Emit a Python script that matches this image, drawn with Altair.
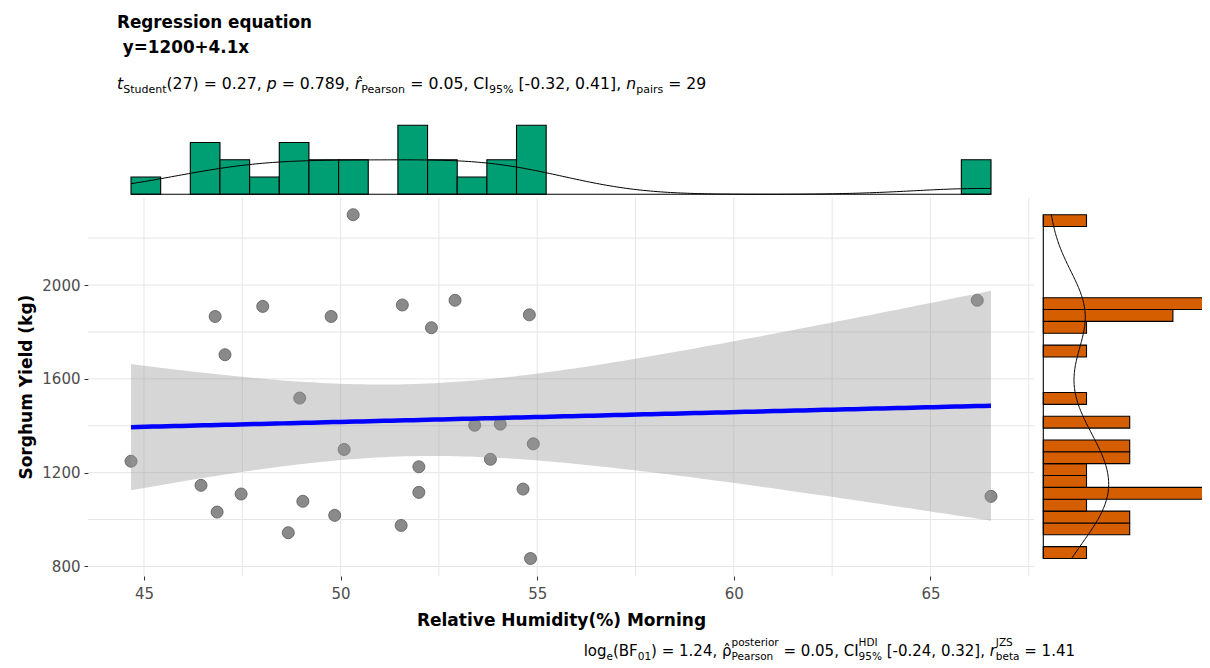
import altair as alt
import numpy as np
import pandas as pd

# ---------------- data ----------------
humidity = [50.32, 46.81, 48.02, 49.76, 51.57, 52.91, 52.31, 54.80, 47.06, 48.96,
            53.41, 54.06, 54.90, 50.09, 44.67, 53.81, 51.99, 46.45, 51.99, 47.47,
            54.64, 49.04, 46.86, 49.85, 51.54, 48.67, 54.83, 66.19, 66.54]
yield_kg = [2300, 1866, 1909, 1866, 1915, 1935, 1818, 1873, 1703, 1518,
            1402, 1407, 1323, 1299, 1249, 1257, 1225, 1146, 1116, 1109,
            1130, 1078, 1032, 1018, 975, 944, 834, 1935, 1099]

x_major = [45, 50, 55, 60, 65]
x_minor = [47.5, 52.5, 57.5, 62.5, 67.5]
y_major = [800, 1200, 1600, 2000]
y_minor = [1000, 1400, 1800, 2200]

title_lines = ["Regression equation", "y=1200+4.1x"]
x_title = "Relative Humidity(%) Morning"
y_title = "Sorghum Yield (kg)"

N_BINS = 29
T_CRIT = 2.052  # Student t quantile 0.975, df = 27

FONT = "DejaVu Sans"

# ---------------- geometry (pixels) ----------------
GX0, GY0 = 88, 120          # page position of the group origin
W, H = 1114, 456
SVG_W, SVG_H = 1194, 652
PAD = {"left": GX0 - 8, "top": GY0 - 8, "right": SVG_W - (GX0 - 8) - W,
       "bottom": SVG_H - (GY0 - 8) - H}
X_RANGE = [0, 946]
Y_RANGE = [455.7, 77.5]
TOP_BASE, TOP_UNIT = 74.3, 17.25
RIGHT_BASE, RIGHT_UNIT = 955.3, 43.2

# ---------------- derived statistics ----------------
x = np.array(humidity, dtype=float)
y = np.array(yield_kg, dtype=float)
n = len(x)
xmin, xmax = x.min(), x.max()
ymin, ymax = y.min(), y.max()
x_dom = [xmin - 0.05 * (xmax - xmin), xmax + 0.05 * (xmax - xmin)]
y_dom = [ymin - 0.05 * (ymax - ymin), ymax + 0.05 * (ymax - ymin)]

b, a = np.polyfit(x, y, 1)
gx = np.linspace(xmin, xmax, 120)
fit = a + b * gx
resid = y - (a + b * x)
s_res = np.sqrt(np.sum(resid ** 2) / (n - 2))
sxx = np.sum((x - x.mean()) ** 2)
se = s_res * np.sqrt(1.0 / n + (gx - x.mean()) ** 2 / sxx)
reg_df = pd.DataFrame({"gx": gx, "fit": fit, "lo": fit - T_CRIT * se, "hi": fit + T_CRIT * se})

pts_df = pd.DataFrame({"hum": humidity, "yld": yield_kg})


def hist(vals):
    edges = np.linspace(vals.min(), vals.max(), N_BINS + 1)
    counts = np.histogram(vals, edges)[0]
    df = pd.DataFrame({"b0": edges[:-1], "b1": edges[1:], "c": counts, "z": 0})
    return df, edges[1] - edges[0]


def kde(vals, binw):
    sd = np.std(vals, ddof=1)
    iqr = np.percentile(vals, 75) - np.percentile(vals, 25)
    bw = 0.9 * min(sd, iqr / 1.34) * len(vals) ** (-0.2)
    g = np.linspace(vals.min(), vals.max(), 256)
    d = np.exp(-0.5 * ((g[:, None] - vals[None, :]) / bw) ** 2).sum(axis=1)
    d = d / (len(vals) * bw * np.sqrt(2 * np.pi))
    return pd.DataFrame({"v": g, "d": d * len(vals) * binw})


xh_df, xbw = hist(x)
yh_df, ybw = hist(y)
xd_df = kde(x, xbw)
yd_df = kde(y, ybw)
cmax_x = int(xh_df["c"].max())
cmax_y = int(yh_df["c"].max())

# ---------------- scales & axes ----------------
xs = alt.Scale(domain=x_dom, range=X_RANGE, nice=False, zero=False)
ys = alt.Scale(domain=y_dom, range=Y_RANGE, nice=False, zero=False)
top_s = alt.Scale(domain=[0, cmax_x], range=[TOP_BASE, TOP_BASE - cmax_x * TOP_UNIT],
                  nice=False, zero=False)
right_s = alt.Scale(domain=[0, cmax_y], range=[RIGHT_BASE, RIGHT_BASE + cmax_y * RIGHT_UNIT],
                    nice=False, zero=False)

common_axis = dict(grid=False, domain=False, ticks=True, tickSize=4, tickColor="#333333",
                   tickWidth=1, labelFont=FONT, labelFontSize=15, labelColor="#4D4D4D",
                   titleFont=FONT, titleFontSize=17, titleFontWeight="bold",
                   titleColor="black", format="d")
x_axis = alt.Axis(values=x_major, title=x_title, labelPadding=6, titleX=473, titleY=49,
                  titleAlign="center", titleBaseline="alphabetic", **common_axis)
y_axis = alt.Axis(values=y_major, title=y_title, labelPadding=4, titleAngle=270,
                  titleX=-57, titleY=(Y_RANGE[0] + Y_RANGE[1]) / 2, titleAlign="center",
                  titleBaseline="alphabetic", **common_axis)

# ---------------- main panel ----------------
grid_v = alt.Chart(pd.DataFrame({"v": x_major + x_minor})).mark_rule(
    color="#E6E6E6", strokeWidth=1).encode(
    x=alt.X("v:Q", scale=xs, axis=x_axis),
    y=alt.value(Y_RANGE[1]), y2=alt.value(Y_RANGE[0]))
grid_h = alt.Chart(pd.DataFrame({"v": y_major + y_minor})).mark_rule(
    color="#E6E6E6", strokeWidth=1).encode(
    y=alt.Y("v:Q", scale=ys, axis=y_axis),
    x=alt.value(X_RANGE[0]), x2=alt.value(X_RANGE[1]))
points = alt.Chart(pts_df).mark_circle(
    size=145, color="#8A8A8A", stroke="#5A5A5A", strokeWidth=0.8, opacity=1).encode(
    x=alt.X("hum:Q", scale=xs, axis=x_axis),
    y=alt.Y("yld:Q", scale=ys, axis=y_axis))
band = alt.Chart(reg_df).mark_area(color="#999999", opacity=0.4).encode(
    x=alt.X("gx:Q", scale=xs, axis=x_axis),
    y=alt.Y("lo:Q", scale=ys, axis=y_axis), y2="hi:Q")
line = alt.Chart(reg_df).mark_line(color="#0000FF", strokeWidth=4.5).encode(
    x=alt.X("gx:Q", scale=xs, axis=x_axis),
    y=alt.Y("fit:Q", scale=ys, axis=y_axis))
main = alt.layer(grid_v, grid_h, points, band, line)

# ---------------- top marginal histogram ----------------
top_bars = alt.Chart(xh_df[xh_df["c"] > 0]).mark_rect(
    color="#009E73", stroke="black", strokeWidth=1.1).encode(
    x=alt.X("b0:Q", scale=xs, axis=None), x2="b1:Q",
    y=alt.Y("c:Q", scale=top_s, axis=None), y2="z:Q")
top_base = alt.Chart(pd.DataFrame({"a": [xmin], "b": [xmax], "z": [0]})).mark_rule(
    color="black", strokeWidth=1.1).encode(
    x=alt.X("a:Q", scale=xs, axis=None), x2="b:Q",
    y=alt.Y("z:Q", scale=top_s, axis=None))
top_dens = alt.Chart(xd_df).mark_line(color="black", strokeWidth=1).encode(
    x=alt.X("v:Q", scale=xs, axis=None),
    y=alt.Y("d:Q", scale=top_s, axis=None))
top = alt.layer(top_bars, top_base, top_dens)

# ---------------- right marginal histogram ----------------
right_bars = alt.Chart(yh_df[yh_df["c"] > 0]).mark_rect(
    color="#D55E00", stroke="black", strokeWidth=1.1, clip=True).encode(
    y=alt.Y("b0:Q", scale=ys, axis=None), y2="b1:Q",
    x=alt.X("c:Q", scale=right_s, axis=None), x2="z:Q")
right_base = alt.Chart(pd.DataFrame({"a": [ymin], "b": [ymax], "z": [0]})).mark_rule(
    color="black", strokeWidth=1.1).encode(
    y=alt.Y("a:Q", scale=ys, axis=None), y2="b:Q",
    x=alt.X("z:Q", scale=right_s, axis=None))
right_dens = alt.Chart(yd_df).mark_line(color="black", strokeWidth=1).encode(
    y=alt.Y("v:Q", scale=ys, axis=None),
    x=alt.X("d:Q", scale=right_s, axis=None),
    order=alt.Order("v:Q"))
right = alt.layer(right_bars, right_base, right_dens)

# ---------------- text annotations (plotmath-like layout) ----------------
HAT = "\u0302"  # combining circumflex
ADV = {" ": 0.318, "(": 0.390, ")": 0.390, "%": 0.950, ",": 0.318, "-": 0.361,
       ".": 0.318, "=": 0.838, "[": 0.390, "]": 0.390, "^": 0.838, "B": 0.686,
       "C": 0.698, "D": 0.770, "F": 0.575, "H": 0.752, "I": 0.295, "J": 0.295,
       "P": 0.603, "S": 0.635, "Z": 0.685, "a": 0.613, "b": 0.635, "d": 0.635,
       "e": 0.615, "g": 0.635, "i": 0.278, "l": 0.278, "n": 0.634, "o": 0.612,
       "p": 0.635, "r": 0.411, "s": 0.521, "t": 0.392, "u": 0.634, "x": 0.592,
       "y": 0.592, "\u03c1": 0.636, HAT: 0.0}


def tw(t, size):
    return sum(ADV.get(c, 0.636) for c in t) * size


def layout(parts, x0, base, S, s, sub_dy, sup_dy):
    rows = []
    xx = x0

    def emit(t, px, py, size, ital):
        lead = len(t) - len(t.lstrip(" "))
        txt = t.strip(" ")
        if txt:
            rows.append({"x": px + tw(" " * lead, size) - GX0, "y": py - GY0,
                         "text": txt, "size": size, "it": ital})

    for p in parts:
        kind = p[0]
        if kind in ("m", "i"):
            emit(p[1], xx, base, S, kind == "i")
            xx += tw(p[1], S)
        elif kind == "sub":
            emit(p[1], xx, base + sub_dy, s, False)
            xx += tw(p[1], s)
        elif kind == "stack":
            emit(p[1], xx, base + sub_dy, s, False)
            emit(p[2], xx, base + sup_dy, s, False)
            xx += max(tw(p[1], s), tw(p[2], s))
    return rows, xx - x0


sub_parts = [("i", "t"), ("sub", "Student"), ("m", "(27) = 0.27, "), ("i", "p"),
             ("m", " = 0.789, "), ("i", "r" + HAT), ("sub", "Pearson"),
             ("m", " = 0.05, CI"), ("sub", "95%"), ("m", " [-0.32, 0.41], "),
             ("i", "n"), ("sub", "pairs"), ("m", " = 29")]
cap_parts = [("m", "log"), ("sub", "e"), ("m", "(BF"), ("sub", "01"),
             ("m", ") = 1.24, "), ("m", "\u03c1" + HAT), ("stack", "Pearson", "posterior"),
             ("m", " = 0.05, CI"), ("stack", "95%", "HDI"), ("m", " [-0.24, 0.32], "),
             ("i", "r"), ("stack", "beta", "JZS"), ("m", " = 1.41")]

SUB_S, SUB_s = 15.7, 11
CAP_S, CAP_s = 15, 10.5
sub_rows, _ = layout(sub_parts, 117, 89, SUB_S, SUB_s, 3.5, -9)
_, cap_w = layout(cap_parts, 0, 0, CAP_S, CAP_s, 3.5, -10)
cap_rows, _ = layout(cap_parts, 1075 - cap_w, 656, CAP_S, CAP_s, 3.5, -10)

TITLE_S = 16.8
title_rows = [
    {"x": 117 - GX0, "y": 28 - GY0, "text": title_lines[0], "size": TITLE_S},
    {"x": 117 + 0.348 * TITLE_S - GX0, "y": 53 - GY0, "text": title_lines[1], "size": TITLE_S},
]

ann_df = pd.DataFrame(sub_rows + cap_rows)


def text_layer(df, weight="normal", style="normal"):
    return alt.Chart(df).mark_text(
        align="left", baseline="alphabetic", font=FONT, fontWeight=weight,
        fontStyle=style, color="black").encode(
        x=alt.X("x:Q", scale=None, axis=None),
        y=alt.Y("y:Q", scale=None, axis=None),
        text="text:N",
        size=alt.Size("size:Q", scale=None, legend=None))


t_title = text_layer(pd.DataFrame(title_rows), weight="bold")
t_norm = text_layer(ann_df[~ann_df["it"]].drop(columns="it"))
t_ital = text_layer(ann_df[ann_df["it"]].drop(columns="it"), style="italic")

chart = alt.layer(main, top, right, t_title, t_norm, t_ital).resolve_scale(
    x="independent", y="independent"
).properties(
    width=W, height=H,
    autosize=alt.AutoSizeParams(type="none"),
    padding=PAD,
).configure_view(stroke=None)

chart.save("out.html", embed_options={"renderer": "svg", "actions": False})
